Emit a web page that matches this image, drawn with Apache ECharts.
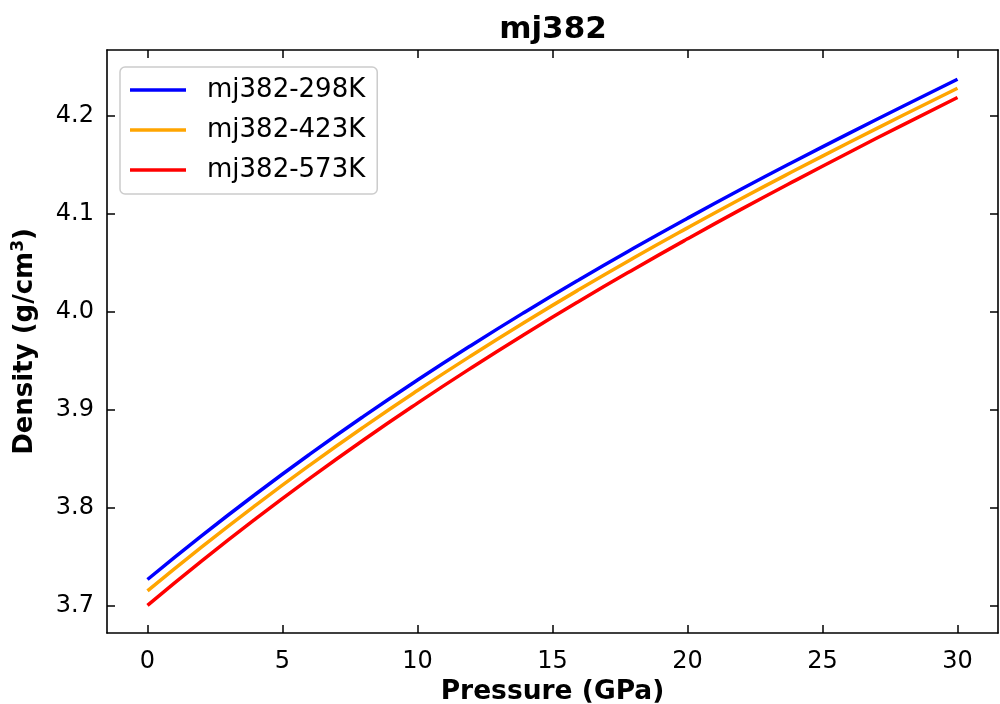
<!DOCTYPE html>
<html>
<head>
<meta charset="utf-8">
<script src="https://cdn.jsdelivr.net/npm/echarts@6/dist/echarts.min.js"></script>
<style>html,body{margin:0;padding:0;background:#fff;}#c{width:1000px;height:704px;}</style>
</head>
<body>
<div id="c"></div>
<script>
const pressure = [0, 2, 4, 6, 8, 10, 12, 14, 16, 18, 20, 22, 24, 26, 28, 30];
const rho298 = [3.7270, 3.7715, 3.8140, 3.8546, 3.8934, 3.9305, 3.9661, 4.0003, 4.0332, 4.0649, 4.0956, 4.1254, 4.1543, 4.1825, 4.2102, 4.2374];
const rho423 = [3.7153, 3.7600, 3.8027, 3.8435, 3.8825, 3.9198, 3.9556, 3.9900, 4.0231, 4.0550, 4.0858, 4.1158, 4.1448, 4.1731, 4.2010, 4.2283];
const rho573 = [3.7006, 3.7457, 3.7888, 3.8300, 3.8694, 3.9070, 3.9431, 3.9778, 4.0112, 4.0434, 4.0746, 4.1049, 4.1343, 4.1630, 4.1912, 4.2188];
const seriesNames = ['mj382-298K', 'mj382-423K', 'mj382-573K'];
const xTicks = [0, 5, 10, 15, 20, 25, 30];
const yTicks = [3.7, 3.8, 3.9, 4.0, 4.1, 4.2];

const FONT = 'DejaVu Sans';
const chart = echarts.init(document.getElementById('c'), null, {renderer: 'canvas'});
const colors = ['#0000ff', '#ffa500', '#ff0000'];
const dataSets = [rho298, rho423, rho573];
const xMin = -1.5, xMax = 31.5, yMin = 3.6724, yMax = 4.2673;

function axisCommon(extra) {
  return Object.assign({
    type: 'value',
    splitLine: {show: false},
    axisLine: {show: true, onZero: false, lineStyle: {color: '#000', width: 1.6}},
  }, extra);
}

chart.setOption({
  animation: false,
  backgroundColor: '#fff',
  title: {
    text: 'mj382', left: 553, top: 14, padding: 0, textAlign: 'center',
    textStyle: {fontFamily: FONT, fontSize: 31, fontWeight: 'bold', color: '#000'}
  },
  legend: {
    orient: 'vertical', left: 120, top: 67, padding: [10, 12, 11, 10],
    backgroundColor: '#fff', borderColor: '#cccccc', borderWidth: 1.5, borderRadius: 5,
    itemWidth: 56, itemHeight: 3.5, itemGap: 14, icon: 'rect',
    textStyle: {fontFamily: FONT, fontSize: 26, color: '#000', lineHeight: 26, padding: [0, 0, 0, 16]},
    data: seriesNames
  },
  grid: {left: 107, right: 2, top: 50, bottom: 71, containLabel: false, outerBoundsMode: 'none'},
  xAxis: [
    axisCommon({
      position: 'bottom', min: xMin, max: xMax,
      name: 'Pressure (GPa)', nameLocation: 'middle', nameGap: 46,
      nameTextStyle: {fontFamily: FONT, fontSize: 26.5, fontWeight: 'bold', color: '#000'},
      axisTick: {show: true, inside: true, length: 8, lineStyle: {color: '#000', width: 1.5}, customValues: xTicks},
      axisLabel: {show: true, margin: 17, fontFamily: FONT, fontSize: 24, color: '#000', customValues: xTicks}
    }),
    axisCommon({
      position: 'top', min: xMin, max: xMax,
      axisTick: {show: true, inside: true, length: 8, lineStyle: {color: '#000', width: 1.5}, customValues: xTicks},
      axisLabel: {show: false}
    })
  ],
  yAxis: [
    axisCommon({
      position: 'left', min: yMin, max: yMax,
      name: 'Density (g/cm{sup|3})', nameLocation: 'middle', nameGap: 66, nameRotate: 90,
      nameTextStyle: {fontFamily: FONT, fontSize: 26, fontWeight: 'bold', color: '#000',
        rich: {sup: {fontFamily: FONT, fontSize: 17, fontWeight: 'bold', color: '#000', padding: [0, 0, 14, 0]}}},
      axisTick: {show: true, inside: true, length: 8, lineStyle: {color: '#000', width: 1.5}, customValues: yTicks},
      axisLabel: {show: true, margin: 13, fontFamily: FONT, fontSize: 24, color: '#000', customValues: yTicks,
        formatter: v => v.toFixed(1)}
    }),
    axisCommon({
      position: 'right', min: yMin, max: yMax,
      axisTick: {show: true, inside: true, length: 8, lineStyle: {color: '#000', width: 1.5}, customValues: yTicks},
      axisLabel: {show: false}
    })
  ],
  series: seriesNames.map((n, i) => ({
    name: n, type: 'line', xAxisIndex: 0, yAxisIndex: 0,
    smooth: true, showSymbol: false, symbol: 'none',
    lineStyle: {color: colors[i], width: 3.5},
    itemStyle: {color: colors[i]},
    data: pressure.map((p, j) => [p, dataSets[i][j]])
  }))
});
</script>
</body>
</html>
